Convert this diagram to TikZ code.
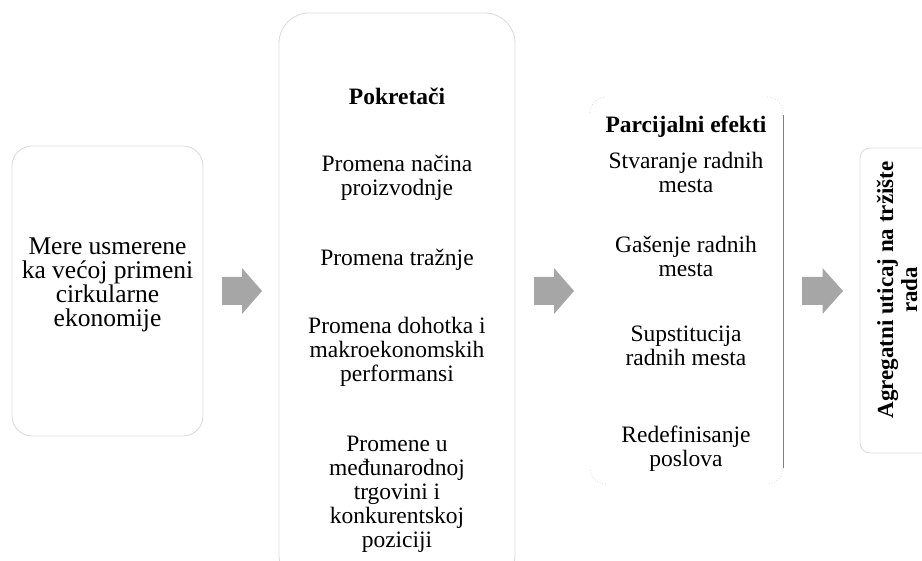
\documentclass[tikz,border=0pt]{standalone}
\usepackage{fontspec}
\setmainfont{Liberation Serif}
\definecolor{boxgray}{RGB}{217,217,217}
\definecolor{arrowgray}{RGB}{166,166,166}
\definecolor{edgegray}{RGB}{127,127,127}
\tikzset{
  stage/.style={draw=boxgray, line width=0.8pt, rounded corners=#1},
  item/.style={align=center, inner sep=0pt, font=\fontsize{23.5}{24}\selectfont},
  headitem/.style={align=center, inner sep=0pt, font=\fontsize{23.5}{24}\selectfont\bfseries},
}
\begin{document}
\begin{tikzpicture}[x=1pt,y=-1pt]
\useasboundingbox (0,0) rectangle (922,561);
\clip (0,0) rectangle (922,561);
\node[stage=20pt, minimum width=191pt, minimum height=290pt] (mere) at (107.5,291) {};
\node[stage=30pt, minimum width=236pt, minimum height=572pt] (pokretaci) at (397,299) {};
\node[minimum width=193pt, minimum height=387pt] (efekti) at (686.5,290.5) {};
\node[stage=10pt, minimum width=100pt, minimum height=305pt] (agregat) at (910,300.5) {};
\draw[edgegray, line width=0.7pt] (783,115) -- (783,468);
\draw[boxgray, dotted, line width=0.8pt] (590,113) .. controls (590,104) and (597,97) .. (606,97);
\draw[boxgray, dotted, line width=0.8pt] (767,97) .. controls (776,97) and (783,104) .. (783,113);
\draw[boxgray, dotted, line width=0.8pt] (783,468) .. controls (783,477) and (776,484) .. (767,484);
\draw[boxgray, dotted, line width=0.8pt] (606,484) .. controls (597,484) and (590,477) .. (590,468);
\foreach \x/\l in {222/40,534/40,802/41}
  \fill[arrowgray] (\x,277) -- ++(\l/2,0) -- ++(0,-9) -- (\x+\l,291) -- (\x+\l/2,314) -- ++(0,-9) -- (\x,305) -- cycle;
\node[item, font=\fontsize{25.5}{24}\selectfont] (mereTxt) at (107.5,285) {Mere usmerene\\ka većoj primeni\\cirkularne\\ekonomije};
\node[headitem] (pokretaciTxt) at (397,96) {Pokretači};
\node[item] (nacin) at (397,178) {Promena načina\\proizvodnje};
\node[item] (traznja) at (397,260) {Promena tražnje};
\node[item] (dohodak) at (397,352) {Promena dohotka i\\makroekonomskih\\performansi};
\node[item] (trgovina) at (397,494) {Promene u\\međunarodnoj\\trgovini i\\konkurentskoj\\poziciji};
\node[headitem] (efektiTxt) at (686,127) {Parcijalni efekti};
\node[item] (stvaranje) at (686,172) {Stvaranje radnih\\mesta};
\node[item] (gasenje) at (686,256) {Gašenje radnih\\mesta};
\node[item] (supstitucija) at (686,346) {Supstitucija\\radnih mesta};
\node[item] (redef) at (686,449) {Redefinisanje\\poslova};
\node[headitem, rotate=90, font=\fontsize{23}{24}\selectfont\bfseries] (agregatTxt) at (897,290) {Agregatni uticaj na tržište\\rada};
\end{tikzpicture}
\end{document}
